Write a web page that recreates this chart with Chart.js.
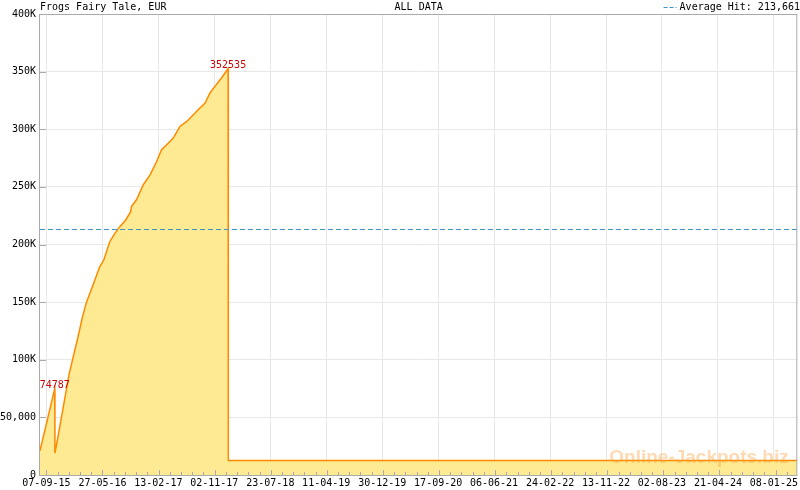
<!DOCTYPE html>
<html>
<head>
<meta charset="utf-8">
<script src="https://cdn.jsdelivr.net/npm/chart.js@4.4.1/dist/chart.umd.min.js"></script>
<style>
    html, body { margin: 0; padding: 0; background: #fff; }
</style>
</head>
<body>
<canvas id="jackpotChart" width="800" height="490"></canvas>
<script>
// Historique du jackpot - Frogs Fairy Tale
const chartTitle = "Frogs Fairy Tale, EUR";
const chartSubtitle = "ALL DATA";
const averageHit = 213661;
const averageLabel = "Average Hit: 213,661";
const watermark = "Online-Jackpots.biz";

const hitDates = [
    "08-08-15", "16-10-15", "17-10-15", "24-10-15", "23-12-15", "31-01-16",
    "23-02-16", "13-03-16", "13-04-16", "14-05-16", "02-06-16", "30-06-16",
    "24-07-16", "16-08-16", "13-09-16", "06-10-16", "10-10-16", "03-11-16",
    "04-12-16", "05-01-17", "05-02-17", "28-02-17", "24-03-17", "24-04-17",
    "25-05-17", "26-06-17", "27-07-17", "27-08-17", "20-09-17", "13-10-17",
    "05-11-17", "06-12-17", "06-01-18", "07-01-18", "28-04-25",
];
const hitValues = [
    21000, 74787, 19000, 25600, 88000, 118000,
    137000, 150000, 165000, 180700, 186500, 202400,
    209700, 215500, 221300, 228500, 232900, 239000,
    251700, 260400, 272000, 282200, 286500, 292300,
    302400, 306800, 312600, 318400, 322800, 331500,
    337200, 344500, 352535, 12600, 12600,
];

const xRange = ["08-08-15", "28-04-25"];
const xTickLabels = [
    "07-09-15", "27-05-16", "13-02-17", "02-11-17", "23-07-18", "11-04-19", "30-12-19",
    "17-09-20", "06-06-21", "24-02-22", "13-11-22", "02-08-23", "21-04-24", "08-01-25",
];
const yTickValues = [0, 50000, 100000, 150000, 200000, 250000, 300000, 350000, 400000];
const yTickLabels = ["0", "50,000", "100K", "150K", "200K", "250K", "300K", "350K", "400K"];

function toDay(s) {
    const [d, m, y] = s.split("-").map(Number);
    return Date.UTC(2000 + y, m - 1, d) / 864e5;
}

const xTickDays = xTickLabels.map(toDay);
const MONO = "'DejaVu Sans Mono', monospace";

// Titres, moyenne, étiquettes, graduations, cadre
const decorations = {
    id: "decorations",
    afterDatasetsDraw(chart) {
        const { ctx, chartArea: a, scales } = chart;
        const x = scales.x, y = scales.y;
        ctx.save();

        // ligne de moyenne
        const ya = Math.round(y.getPixelForValue(averageHit)) + 0.5;
        ctx.strokeStyle = "#3d94c6";
        ctx.lineWidth = 1;
        ctx.setLineDash([5, 3]);
        ctx.beginPath();
        ctx.moveTo(a.left, ya);
        ctx.lineTo(a.right, ya);
        ctx.stroke();
        ctx.setLineDash([]);

        // filigrane
        ctx.font = "bold 19px 'Liberation Sans', Arial, sans-serif";
        ctx.fillStyle = "rgba(255, 160, 60, 0.4)";
        ctx.textAlign = "center";
        ctx.textBaseline = "middle";
        ctx.fillText(watermark, 699, 458);

        // étiquettes des pics
        const meta = chart.getDatasetMeta(0);
        ctx.font = "10px " + MONO;
        ctx.fillStyle = "#cc0000";
        ctx.textAlign = "center";
        ctx.textBaseline = "bottom";
        hitValues.forEach((v, i) => {
            if (i < hitValues.length - 1 && v > hitValues[i + 1]) {
                const p = meta.data[i];
                ctx.fillText(String(v), p.x, p.y + 2);
            }
        });

        // cadre
        ctx.strokeStyle = "#aaaaaa";
        ctx.lineWidth = 1;
        ctx.strokeRect(a.left - 0.5, a.top + 0.5, a.right - a.left, a.bottom - a.top);

        // graduations vers l'intérieur
        ctx.beginPath();
        yTickValues.forEach(v => {
            const py = Math.round(y.getPixelForValue(v)) + 0.5;
            ctx.moveTo(a.left, py);
            ctx.lineTo(a.left + 6, py);
        });
        const step = (xTickDays[1] - xTickDays[0]) / 5;
        const xmin = toDay(xRange[0]), xmax = toDay(xRange[1]);
        for (let d = xTickDays[0] - step * 5; d <= xmax; d += step) {
            if (d < xmin) continue;
            const k = Math.round((d - xTickDays[0]) / step);
            const len = k % 5 === 0 ? 5 : 3;
            const px = Math.round(x.getPixelForValue(d)) + 0.5;
            ctx.moveTo(px, a.bottom);
            ctx.lineTo(px, a.bottom - len);
        }
        ctx.stroke();

        // titres
        ctx.font = "10px " + MONO;
        ctx.fillStyle = "#000";
        ctx.textBaseline = "middle";
        ctx.textAlign = "left";
        ctx.fillText(chartTitle, 40, 7);
        ctx.textAlign = "center";
        ctx.fillText(chartSubtitle, (a.left + a.right) / 2, 7);
        ctx.textAlign = "right";
        ctx.fillText(averageLabel, 800, 7);
        const w = ctx.measureText(averageLabel).width;
        ctx.strokeStyle = "#3d94c6";
        ctx.setLineDash([4, 2]);
        ctx.beginPath();
        ctx.moveTo(800 - w - 16, 7.5);
        ctx.lineTo(800 - w - 3, 7.5);
        ctx.stroke();
        ctx.restore();
    },
};

new Chart(document.getElementById("jackpotChart"), {
    type: "line",
    data: {
        datasets: [{
            data: hitDates.map((d, i) => ({ x: toDay(d), y: hitValues[i] })),
            borderColor: "#ff8a00",
            borderWidth: 1.5,
            backgroundColor: "#feea92",
            fill: "origin",
            pointRadius: 0,
            tension: 0,
        }],
    },
    options: {
        responsive: false,
        animation: false,
        devicePixelRatio: 1,
        layout: { padding: { top: 14, right: 2, left: 0, bottom: 0 } },
        plugins: {
            legend: { display: false },
            tooltip: { enabled: false },
        },
        scales: {
            x: {
                type: "linear",
                min: toDay(xRange[0]),
                max: toDay(xRange[1]),
                afterBuildTicks: s => { s.ticks = xTickDays.map(v => ({ value: v })); },
                afterFit: s => { s.height = 15; },
                ticks: {
                    autoSkip: false,
                    maxRotation: 0,
                    minRotation: 0,
                    padding: 2,
                    color: "#000",
                    font: { family: MONO, size: 10 },
                    callback: (v, i) => xTickLabels[i],
                },
                grid: { color: "#e8e8e8", drawTicks: false },
                border: { display: false },
            },
            y: {
                min: 0,
                max: 400000,
                afterBuildTicks: s => { s.ticks = yTickValues.map(v => ({ value: v })); },
                afterFit: s => { s.width = 40; },
                ticks: {
                    padding: 4,
                    color: "#000",
                    font: { family: MONO, size: 10 },
                    callback: (v, i) => yTickLabels[i],
                },
                grid: { color: "#e8e8e8", drawTicks: false },
                border: { display: false },
            },
        },
    },
    plugins: [decorations],
});
</script>
</body>
</html>
